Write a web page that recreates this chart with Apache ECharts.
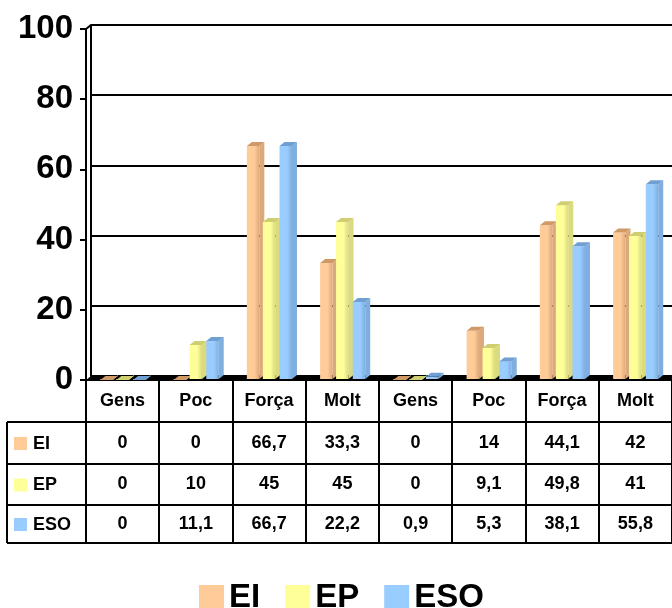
<!DOCTYPE html>
<html>
<head>
<meta charset="utf-8">
<script src="https://cdn.jsdelivr.net/npm/echarts@6/dist/echarts.min.js"></script>
<style>
    html, body {margin: 0; padding: 0; background: #fff;}
    #main {width: 672px; height: 608px;}
</style>
</head>
<body>
<div id="main"></div>
<script>
var categories = ["Gens", "Poc", "Força", "Molt", "Gens", "Poc", "Força", "Molt"];
var seriesNames = ["EI", "EP", "ESO"];
var dataEI = [0, 0, 66.7, 33.3, 0, 14, 44.1, 42];
var dataEP = [0, 10, 45, 45, 0, 9.1, 49.8, 41];
var dataESO = [0, 11.1, 66.7, 22.2, 0.9, 5.3, 38.1, 55.8];
var yTicks = [0, 20, 40, 60, 80, 100];

var allData = [dataEI, dataEP, dataESO];
// front face, side face, top face
var colFront = ["#FFCC99", "#FFFF99", "#99CCFF"];
var colSide = ["#DDA97A", "#DADA7E", "#7FAEE0"];
var colTop = ["#D09A68", "#CFCF72", "#6F9FD3"];
var barOffset = [-0.304, -0.086, 0.142];

var LEFT = 86, RIGHT_X = 672, TOP = 29, AXIS_Y = 380;
var DX = 5, DY = 4;
var COL_W = (RIGHT_X - LEFT) / categories.length;
var rowLines = [422, 464, 505, 543];
var tableLeft = 7;

var myChart = echarts.init(document.getElementById("main"));

function renderBar(params, api) {
    var si = params.seriesIndex;
    var cat = api.value(0), v = api.value(1);
    var base = api.coord([cat, 0]);
    var top = api.coord([cat, v]);
    var band = api.size([1, 0])[0];
    var w = band * 0.17;
    var x0 = base[0] + band * barOffset[si];
    var yb = base[1] - 1, yt = top[1];
    return {
        type: 'group',
        children: [
            {
                type: 'rect',
                shape: {x: x0, y: yt, width: w, height: yb - yt},
                style: {
                    fill: new echarts.graphic.LinearGradient(0, 0, 1, 0, [
                        {offset: 0, color: colFront[si]},
                        {offset: 0.6, color: colFront[si]},
                        {offset: 1, color: colSide[si]}
                    ])
                }
            },
            {
                type: 'polygon',
                shape: {points: [[x0 + w, yt], [x0 + w + DX, yt - DY], [x0 + w + DX, yb - DY], [x0 + w, yb]]},
                style: {fill: colSide[si]}
            },
            {
                type: 'polygon',
                shape: {points: [[x0, yt], [x0 + DX, yt - DY], [x0 + w + DX, yt - DY], [x0 + w, yt]]},
                style: {fill: colTop[si]}
            }
        ]
    };
}

function fmt(v) {
    return String(v).replace('.', ',');
}

// table drawn with graphic elements
var graphics = [];
// floor
graphics.push({
    type: 'polygon', z: 1,
    shape: {points: [[LEFT, AXIS_Y], [LEFT + DX, AXIS_Y - DY], [RIGHT_X, AXIS_Y - DY], [RIGHT_X, AXIS_Y]]},
    style: {fill: '#000'}
});
// corner of the walls
graphics.push({
    type: 'line', z: 1,
    shape: {x1: LEFT, y1: TOP, x2: LEFT + DX, y2: TOP - DY},
    style: {stroke: '#000', lineWidth: 2}
});
// horizontal lines
for (var r = 0; r < rowLines.length; r++) {
    graphics.push({
        type: 'line', z: 1,
        shape: {x1: tableLeft, y1: rowLines[r], x2: RIGHT_X, y2: rowLines[r]},
        style: {stroke: '#000', lineWidth: 2}
    });
}
// vertical lines
graphics.push({
    type: 'line', z: 1,
    shape: {x1: tableLeft, y1: rowLines[0], x2: tableLeft, y2: rowLines[rowLines.length - 1]},
    style: {stroke: '#000', lineWidth: 2}
});
for (var c = 0; c <= categories.length; c++) {
    var xx = Math.round(LEFT + c * COL_W);
    graphics.push({
        type: 'line', z: 1,
        shape: {x1: xx, y1: AXIS_Y, x2: xx, y2: rowLines[rowLines.length - 1]},
        style: {stroke: '#000', lineWidth: 2}
    });
}
// rows
for (var s = 0; s < seriesNames.length; s++) {
    var yMid = (rowLines[s] + rowLines[s + 1]) / 2;
    graphics.push({
        type: 'rect', z: 1,
        shape: {x: 14, y: yMid - 6, width: 13, height: 13},
        style: {fill: colFront[s]}
    });
    graphics.push({
        type: 'text', z: 1,
        style: {
            x: 33, y: yMid + 1, text: seriesNames[s],
            font: 'bold 18px Arial', fill: '#000',
            textAlign: 'left', textVerticalAlign: 'middle'
        }
    });
    for (var c2 = 0; c2 < categories.length; c2++) {
        graphics.push({
            type: 'text', z: 1,
            style: {
                x: LEFT + (c2 + 0.5) * COL_W, y: yMid,
                text: fmt(allData[s][c2]),
                font: 'bold 18px Arial', fill: '#000',
                textAlign: 'center', textVerticalAlign: 'middle'
            }
        });
    }
}

var series = [];
for (var k = 0; k < seriesNames.length; k++) {
    series.push({
        name: seriesNames[k],
        type: 'custom',
        xAxisIndex: 0,
        yAxisIndex: 0,
        renderItem: renderBar,
        itemStyle: {color: colFront[k]},
        encode: {x: 0, y: 1},
        data: allData[k].map(function (v, i) { return [i, v]; }),
        z: 5
    });
}

var option = {
    animation: false,
    backgroundColor: '#fff',
    grid: [
        {left: LEFT, right: 0, top: TOP, height: AXIS_Y - TOP},
        {left: LEFT + DX, right: 0, top: TOP - DY, height: AXIS_Y - TOP}
    ],
    legend: {
        data: seriesNames,
        left: 194,
        top: 576,
        itemWidth: 25,
        itemHeight: 25,
        itemGap: 25,
        icon: 'rect',
        textStyle: {fontFamily: 'Arial', fontWeight: 'bold', fontSize: 33, color: '#000'}
    },
    xAxis: [
        {
            type: 'category',
            gridIndex: 0,
            data: categories,
            axisLine: {show: true, lineStyle: {color: '#000', width: 2}},
            axisTick: {show: false},
            axisLabel: {
                margin: 12,
                fontFamily: 'Arial', fontWeight: 'bold', fontSize: 18, color: '#000'
            },
            splitLine: {show: false}
        },
        {
            type: 'category',
            gridIndex: 1,
            data: categories,
            axisLine: {show: false},
            axisTick: {show: false},
            axisLabel: {show: false}
        }
    ],
    yAxis: [
        {
            type: 'value',
            gridIndex: 0,
            min: 0, max: 100, interval: 20,
            axisLine: {show: true, lineStyle: {color: '#000', width: 2}},
            axisTick: {show: true, length: 6, lineStyle: {color: '#000', width: 2}},
            axisLabel: {
                margin: 13,
                fontFamily: 'Arial', fontWeight: 'bold', fontSize: 33, color: '#000',
                formatter: function (v) { return yTicks.indexOf(v) >= 0 ? String(v) : ''; }
            },
            splitLine: {show: false}
        },
        {
            type: 'value',
            gridIndex: 1,
            min: 0, max: 100, interval: 20,
            axisLine: {show: true, lineStyle: {color: '#000', width: 2}},
            axisTick: {show: false},
            axisLabel: {show: false},
            splitLine: {show: true, lineStyle: {color: '#000', width: 2}}
        }
    ],
    graphic: graphics,
    series: series
};

myChart.setOption(option);
</script>
</body>
</html>
